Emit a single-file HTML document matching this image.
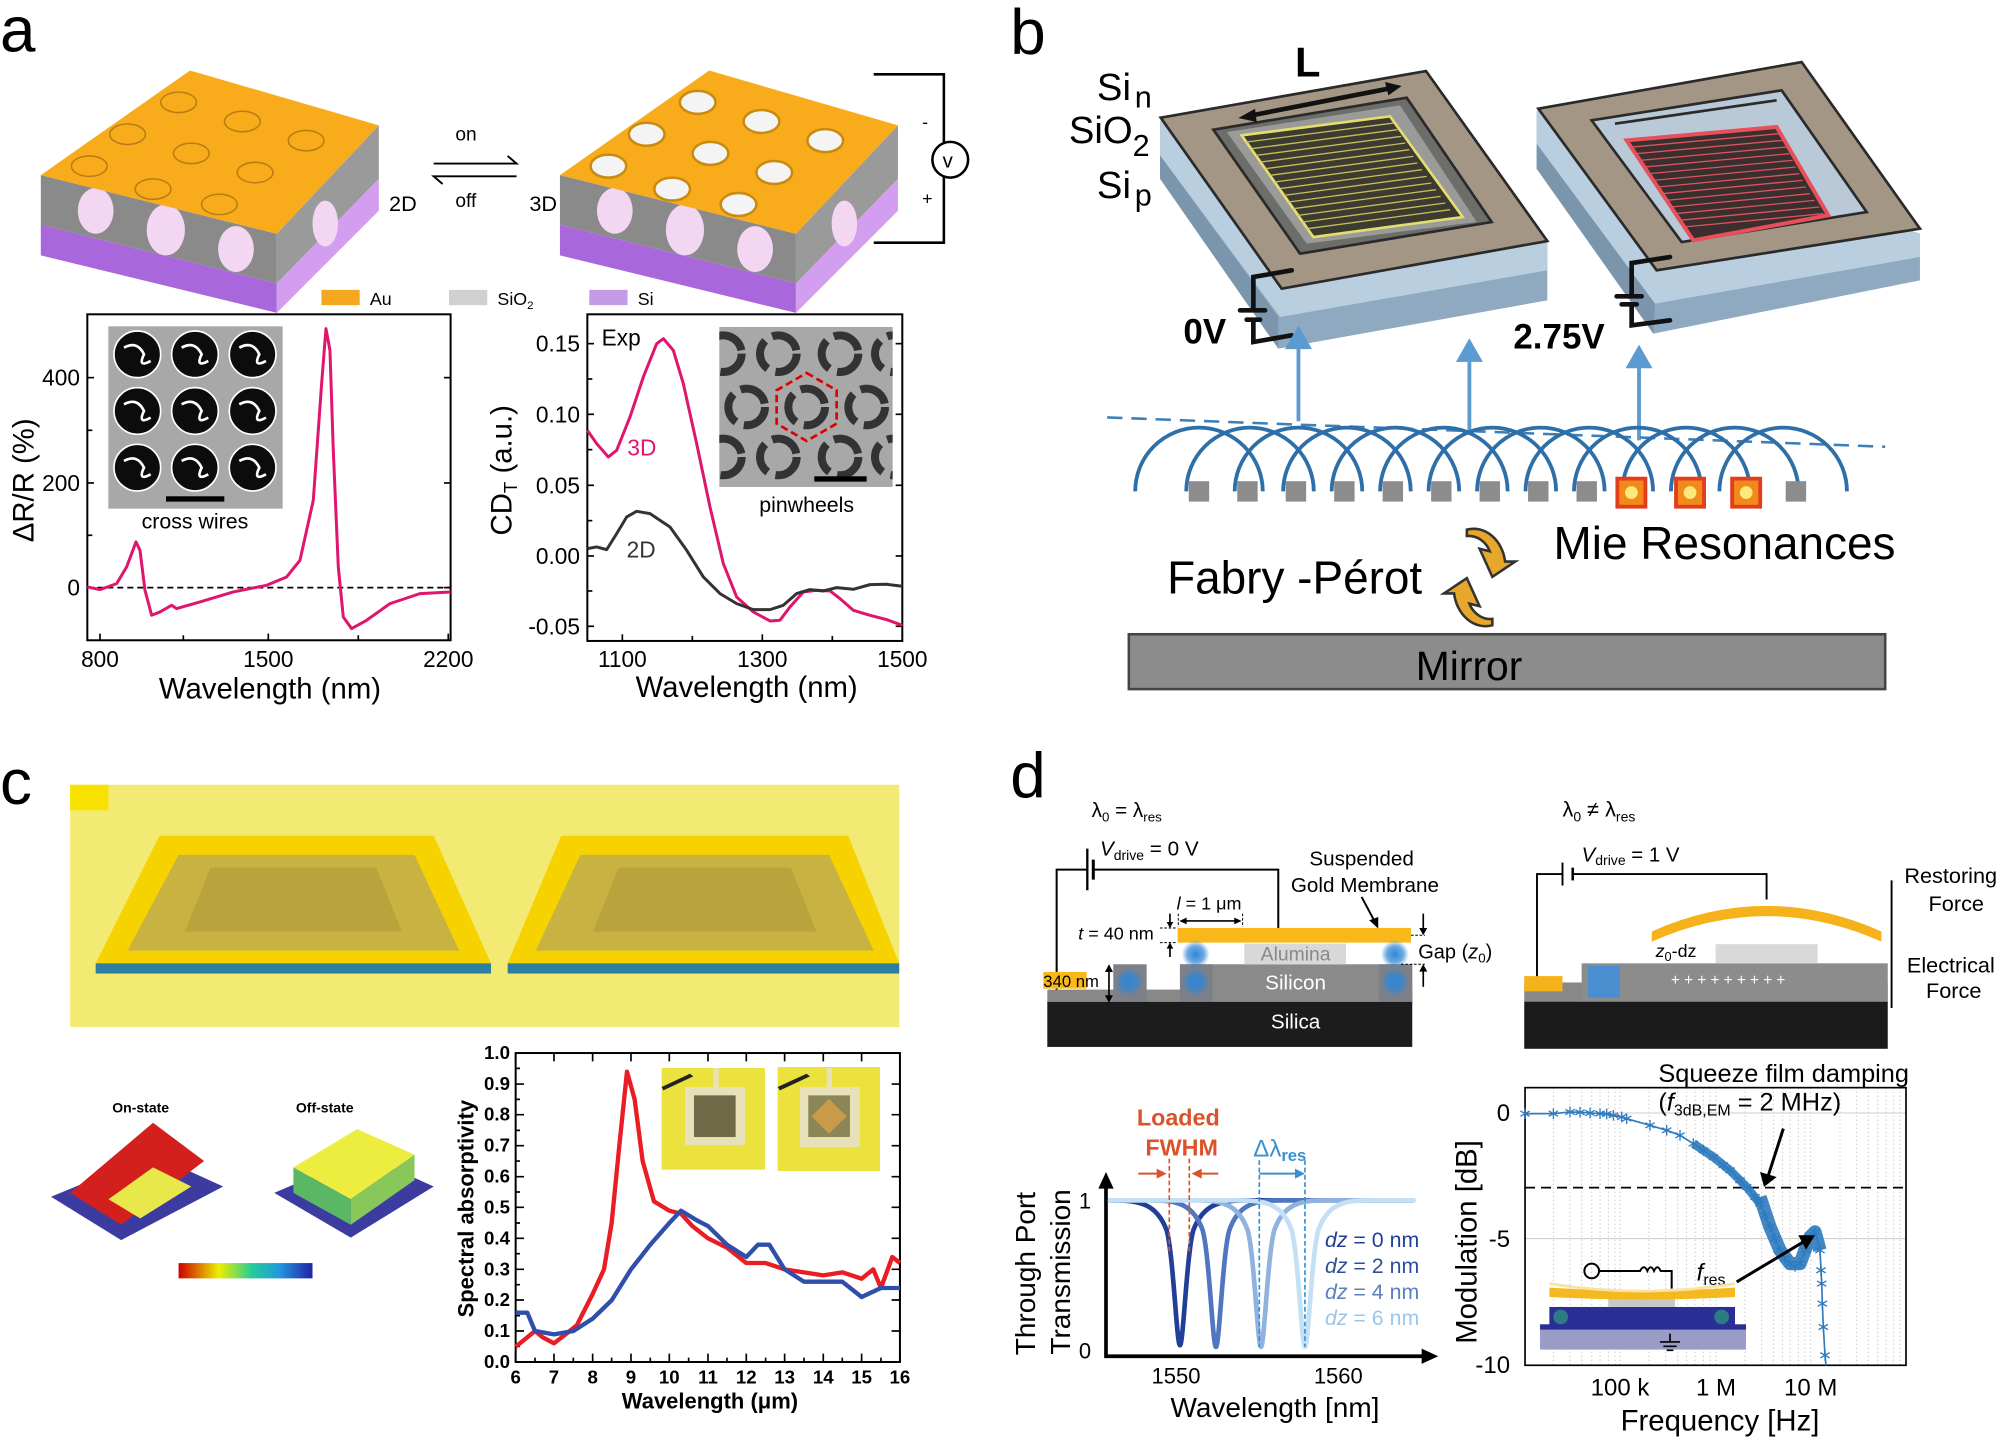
<!DOCTYPE html>
<html><head><meta charset="utf-8"><style>
html,body{margin:0;padding:0;background:#fff}
svg{display:block}
text{font-family:"Liberation Sans",sans-serif}
</style></head><body>
<svg width="2000" height="1456" viewBox="0 0 1568 1141" xmlns="http://www.w3.org/2000/svg">
<defs>
<clipPath id="ci"><rect x="748" y="80" width="520" height="480"/></clipPath>
<linearGradient id="cb" x1="0" x2="1"><stop offset="0" stop-color="#c00"/><stop offset="0.3" stop-color="#ee0"/><stop offset="0.55" stop-color="#2c9"/><stop offset="0.75" stop-color="#29d"/><stop offset="1" stop-color="#22a"/></linearGradient>
<marker id="ast" markerUnits="userSpaceOnUse" markerWidth="40" markerHeight="40" refX="20" refY="20" viewBox="0 0 40 40">
<path d="M20,4 V36 M6,12 L34,28 M6,28 L34,12" stroke="#2f7bbf" stroke-width="4"/>
</marker>
<radialGradient id="glow"><stop offset="0" stop-color="#2f86d6"/><stop offset="0.6" stop-color="#2f86d6" stop-opacity="0.7"/><stop offset="1" stop-color="#2f86d6" stop-opacity="0"/></radialGradient>
</defs>
<rect width="1568" height="1141" fill="#fff"/>
<text x="0" y="40" font-size="50">a</text>
<text x="792" y="42" font-size="50">b</text>
<text x="0" y="630" font-size="50">c</text>
<text x="792" y="625" font-size="50">d</text>

<!-- ===== a: blocks ===== -->
<g id="blk">
<polygon points="32,137 217,183 217,222 32,176" fill="#8a8a8a"/>
<polygon points="32,176 217,222 217,245 32,200" fill="#a868dc"/>
<polygon points="217,183 297,98 297,140 217,222" fill="#9a9a9a"/>
<polygon points="217,222 297,140 297,165 217,245" fill="#d49ef0"/>
<g fill="#f2d6f2"><ellipse cx="75" cy="165" rx="14" ry="18"/><ellipse cx="130" cy="180" rx="15" ry="20"/><ellipse cx="185" cy="195" rx="14" ry="18"/><ellipse cx="255" cy="175" rx="10" ry="18"/></g>
</g>
<polygon points="32,137 149,55 297,98 217,183" fill="#f8ac1c"/>
<g fill="none" stroke="#b87d10" stroke-width="1.2">
<ellipse cx="140" cy="80" rx="14" ry="8"/><ellipse cx="190" cy="95" rx="14" ry="8"/><ellipse cx="240" cy="110" rx="14" ry="8"/>
<ellipse cx="100" cy="105" rx="14" ry="8"/><ellipse cx="150" cy="120" rx="14" ry="8"/><ellipse cx="200" cy="135" rx="14" ry="8"/>
<ellipse cx="70" cy="130" rx="14" ry="8"/><ellipse cx="120" cy="148" rx="14" ry="8"/><ellipse cx="172" cy="160" rx="14" ry="8"/>
</g>
<use href="#blk" x="407"/>
<polygon points="439,137 556,55 704,98 624,183" fill="#f8ac1c"/>
<g fill="#f4f4f4" stroke="#c98a12" stroke-width="2">
<ellipse cx="547" cy="80" rx="14" ry="9"/><ellipse cx="597" cy="95" rx="14" ry="9"/><ellipse cx="647" cy="110" rx="14" ry="9"/>
<ellipse cx="507" cy="105" rx="14" ry="9"/><ellipse cx="557" cy="120" rx="14" ry="9"/><ellipse cx="607" cy="135" rx="14" ry="9"/>
<ellipse cx="477" cy="130" rx="14" ry="9"/><ellipse cx="527" cy="148" rx="14" ry="9"/><ellipse cx="579" cy="160" rx="14" ry="9"/>
</g>
<path d="M685,58 H740 V190 H685" fill="none" stroke="#000" stroke-width="2"/>
<circle cx="745" cy="125" r="14" fill="#fff" stroke="#000" stroke-width="2"/>
<text x="739" y="131" font-size="16">v</text>
<text x="723" y="100" font-size="14">-</text><text x="723" y="160" font-size="14">+</text>
<text x="305" y="165" font-size="17">2D</text><text x="415" y="165" font-size="17">3D</text>
<text x="357" y="110" font-size="15">on</text><text x="357" y="162" font-size="15">off</text>
<path d="M340,128 H405 L398,122 M405,138 H340 L347,144" fill="none" stroke="#000" stroke-width="1.5"/>
<rect x="252" y="227" width="30" height="12" fill="#f5a81f"/><text x="290" y="239" font-size="14">Au</text>
<rect x="352" y="227" width="30" height="12" fill="#d0d0d0"/><text x="390" y="239" font-size="14">SiO<tspan font-size="9" dy="3">2</tspan></text>
<rect x="462" y="227" width="30" height="12" fill="#c79ae8"/><text x="500" y="239" font-size="14">Si</text>

<!-- a1 chart -->
<g transform="translate(0,235.2) scale(0.2613)">
<rect x="262" y="42" width="1090" height="978" fill="none" stroke="#000" stroke-width="6"/>
<line x1="262" y1="862" x2="1352" y2="862" stroke="#000" stroke-width="5" stroke-dasharray="18,12"/>
<g stroke="#000" stroke-width="5">
<line x1="300" y1="1020" x2="300" y2="1000"/><line x1="550" y1="1020" x2="550" y2="1005"/><line x1="805" y1="1020" x2="805" y2="1000"/><line x1="1075" y1="1020" x2="1075" y2="1005"/><line x1="1345" y1="1020" x2="1345" y2="1000"/>
<line x1="262" y1="232" x2="282" y2="232"/><line x1="262" y1="390" x2="277" y2="390"/><line x1="262" y1="548" x2="282" y2="548"/><line x1="262" y1="705" x2="277" y2="705"/><line x1="262" y1="862" x2="282" y2="862"/>
<line x1="1352" y1="232" x2="1332" y2="232"/><line x1="1352" y1="548" x2="1332" y2="548"/><line x1="1352" y1="862" x2="1332" y2="862"/>
</g>
<rect x="325" y="78" width="523" height="547" fill="#a8a8a8"/>
<g fill="#0c0c0c" stroke="#fff" stroke-width="5">
<circle cx="412" cy="162" r="70"/><circle cx="585" cy="162" r="70"/><circle cx="758" cy="162" r="70"/>
<circle cx="412" cy="332" r="70"/><circle cx="585" cy="332" r="70"/><circle cx="758" cy="332" r="70"/>
<circle cx="412" cy="502" r="70"/><circle cx="585" cy="502" r="70"/><circle cx="758" cy="502" r="70"/>
</g>
<g fill="none" stroke="#fff" stroke-width="8">
<path d="M372,142 Q412,120 432,162 Q412,204 452,182"/><path d="M545,142 Q585,120 605,162 Q585,204 625,182"/><path d="M718,142 Q758,120 778,162 Q758,204 798,182"/>
<path d="M372,312 Q412,290 432,332 Q412,374 452,352"/><path d="M545,312 Q585,290 605,332 Q585,374 625,352"/><path d="M718,312 Q758,290 778,332 Q758,374 798,352"/>
<path d="M372,482 Q412,460 432,502 Q412,544 452,522"/><path d="M545,482 Q585,460 605,502 Q585,544 625,522"/><path d="M718,482 Q758,460 778,502 Q758,544 798,522"/>
</g>
<rect x="498" y="588" width="175" height="16" fill="#000"/>
<text x="585" y="685" font-size="64" text-anchor="middle">cross wires</text>
<path d="M262,860 L300,868 L350,850 L380,800 L408,725 L420,750 L435,870 L455,945 L480,935 L515,915 L530,925 L600,905 L700,875 L800,855 L860,830 L900,780 L940,600 L965,250 L978,85 L990,150 L1000,450 L1015,800 L1030,950 L1055,985 L1100,960 L1170,910 L1260,880 L1352,875" fill="none" stroke="#e0156e" stroke-width="9" stroke-linejoin="round"/>
<g font-size="68" text-anchor="middle"><text x="300" y="1100">800</text><text x="805" y="1100">1500</text><text x="1345" y="1100">2200</text></g>
<g font-size="68" text-anchor="end"><text x="240" y="256">400</text><text x="240" y="572">200</text><text x="240" y="886">0</text></g>
<text x="810" y="1195" font-size="88" text-anchor="middle">Wavelength (nm)</text>
<text transform="translate(100,540) rotate(-90)" font-size="88" text-anchor="middle">ΔR/R (%)</text>
</g>

<!-- a2 chart -->
<g transform="translate(368.5,235.2) scale(0.2613)">
<rect x="352" y="42" width="945" height="980" fill="none" stroke="#000" stroke-width="6"/>
<g stroke="#000" stroke-width="5">
<line x1="457" y1="1022" x2="457" y2="1002"/><line x1="667" y1="1022" x2="667" y2="1007"/><line x1="877" y1="1022" x2="877" y2="1002"/><line x1="1087" y1="1022" x2="1087" y2="1007"/>
<line x1="352" y1="130" x2="372" y2="130"/><line x1="352" y1="236" x2="367" y2="236"/><line x1="352" y1="342" x2="372" y2="342"/><line x1="352" y1="448" x2="367" y2="448"/><line x1="352" y1="555" x2="372" y2="555"/><line x1="352" y1="661" x2="367" y2="661"/><line x1="352" y1="767" x2="372" y2="767"/><line x1="352" y1="872" x2="367" y2="872"/><line x1="352" y1="978" x2="372" y2="978"/>
<line x1="1297" y1="130" x2="1277" y2="130"/><line x1="1297" y1="342" x2="1277" y2="342"/><line x1="1297" y1="555" x2="1277" y2="555"/><line x1="1297" y1="767" x2="1277" y2="767"/><line x1="1297" y1="978" x2="1277" y2="978"/>
</g>
<rect x="748" y="80" width="520" height="480" fill="#a8a8a8"/>
<g clip-path="url(#ci)" fill="none" stroke="#333" stroke-width="24" stroke-dasharray="95,25">
<circle cx="760" cy="160" r="55"/><circle cx="925" cy="160" r="55"/><circle cx="1110" cy="160" r="55"/><circle cx="1270" cy="160" r="55"/>
<circle cx="830" cy="320" r="55"/><circle cx="1010" cy="320" r="55"/><circle cx="1190" cy="320" r="55"/>
<circle cx="760" cy="470" r="55"/><circle cx="925" cy="470" r="55"/><circle cx="1110" cy="470" r="55"/><circle cx="1270" cy="470" r="55"/>
</g>
<polygon points="1010,218 1100,270 1100,370 1010,422 920,370 920,270" fill="none" stroke="#d00" stroke-width="8" stroke-dasharray="22,12"/>
<rect x="1033" y="528" width="157" height="16" fill="#000"/>
<text x="1010" y="635" font-size="64" text-anchor="middle">pinwheels</text>
<text x="395" y="135" font-size="68">Exp</text>
<text x="472" y="465" font-size="68" fill="#e0156e">3D</text>
<text x="470" y="772" font-size="68" fill="#333">2D</text>
<path d="M352,390 L380,430 L415,470 L440,450 L480,350 L520,230 L560,130 L580,115 L610,150 L640,250 L680,430 L720,620 L760,790 L800,890 L850,935 L900,962 L930,960 L960,920 L1000,875 L1040,870 L1080,872 L1110,895 L1150,930 L1200,945 L1250,958 L1297,975" fill="none" stroke="#e0156e" stroke-width="9" stroke-linejoin="round"/>
<path d="M352,745 L380,740 L410,748 L440,700 L470,650 L500,633 L540,640 L600,680 L650,750 L700,830 L750,880 L800,910 L850,928 L900,928 L940,915 L980,880 L1020,868 L1060,872 L1100,862 L1150,867 L1200,853 L1250,852 L1297,858" fill="none" stroke="#333" stroke-width="9" stroke-linejoin="round"/>
<g font-size="68" text-anchor="middle"><text x="457" y="1100">1100</text><text x="877" y="1100">1300</text><text x="1297" y="1100">1500</text></g>
<g font-size="68" text-anchor="end"><text x="330" y="154">0.15</text><text x="330" y="366">0.10</text><text x="330" y="579">0.05</text><text x="330" y="791">0.00</text><text x="330" y="1002">-0.05</text></g>
<text x="830" y="1190" font-size="88" text-anchor="middle">Wavelength (nm)</text>
<text transform="translate(125,510) rotate(-90)" font-size="88" text-anchor="middle">CD<tspan font-size="56" dy="16">T</tspan><tspan dy="-16"> (a.u.)</tspan></text>
</g>

<!-- ===== b ===== -->
<text x="860" y="78" font-size="30">Si<tspan font-size="24" dx="3" dy="6">n</tspan></text>
<text x="838" y="112" font-size="30">SiO<tspan font-size="24" dy="10">2</tspan></text>
<text x="860" y="155" font-size="30">Si<tspan font-size="24" dx="3" dy="6">p</tspan></text>
<!-- left frame -->
<g transform="translate(893.8,31.4) scale(0.2613)">
<polygon points="60,240 60,415 415,925 1222,780 1222,600" fill="#8fa9c0"/>
<polygon points="60,240 60,345 420,830 1222,690 1222,600" fill="#b9cfdf"/>
<polygon points="60,345 60,415 415,925 415,830" fill="#7b95ad"/>
<polygon points="62,232 858,92 1222,602 425,745" fill="#a39684" stroke="#2a2a2a" stroke-width="8"/>
<polygon points="220,268 800,172 1055,545 480,640" fill="#6d6d6a" stroke="#2a2a2a" stroke-width="8"/>
<polygon points="260,275 780,195 1010,545 500,610" fill="#9a9a98"/>
<polygon points="305,285 750,228 968,530 520,590" fill="#3b3b30" stroke="#e6dd70" stroke-width="8"/>
<g stroke="#c7bd60" stroke-width="4">
<line x1="320" y1="305" x2="760" y2="248"/><line x1="334" y1="325" x2="772" y2="268"/><line x1="348" y1="345" x2="784" y2="288"/><line x1="362" y1="365" x2="796" y2="308"/><line x1="376" y1="385" x2="808" y2="328"/><line x1="390" y1="405" x2="820" y2="348"/><line x1="404" y1="425" x2="832" y2="368"/><line x1="418" y1="445" x2="846" y2="388"/><line x1="432" y1="465" x2="860" y2="408"/><line x1="446" y1="485" x2="874" y2="428"/><line x1="460" y1="505" x2="888" y2="448"/><line x1="474" y1="525" x2="902" y2="468"/><line x1="488" y1="545" x2="916" y2="488"/><line x1="502" y1="565" x2="930" y2="508"/>
</g>
<path d="M320,228 L760,142" stroke="#111" stroke-width="14"/>
<polygon points="295,233 345,205 350,245" fill="#111"/><polygon points="785,137 735,125 745,165" fill="#111"/>
<text x="465" y="108" font-size="125" font-weight="bold">L</text>
<path d="M455,690 L340,710 V805 M300,810 H375 M320,838 H360 M340,840 V905 L455,885" fill="none" stroke="#111" stroke-width="14" stroke-linecap="round"/>
<text x="130" y="910" font-size="105" font-weight="bold">0V</text>
</g>
<!-- right frame -->
<g transform="translate(1176,31.4) scale(0.2613)">
<polygon points="110,210 110,385 460,880 1260,720 1260,580" fill="#8fa9c0"/>
<polygon points="110,210 110,310 465,790 1260,650 1260,580" fill="#b9cfdf"/>
<polygon points="110,310 110,385 460,880 465,790" fill="#7b95ad"/>
<polygon points="115,205 905,65 1260,565 470,690" fill="#a39684" stroke="#2a2a2a" stroke-width="8"/>
<polygon points="275,240 845,150 1100,515 545,605" fill="#b9c9d8" stroke="#2a2a2a" stroke-width="8"/>
<polygon points="380,300 830,260 985,525 580,600" fill="#3b2e2e" stroke="#e5505a" stroke-width="12"/>
<g stroke="#d9555e" stroke-width="4">
<line x1="395" y1="320" x2="838" y2="280"/><line x1="408" y1="340" x2="848" y2="300"/><line x1="421" y1="360" x2="858" y2="320"/><line x1="434" y1="380" x2="868" y2="340"/><line x1="447" y1="400" x2="878" y2="360"/><line x1="460" y1="420" x2="888" y2="380"/><line x1="473" y1="440" x2="898" y2="400"/><line x1="486" y1="460" x2="908" y2="420"/><line x1="499" y1="480" x2="918" y2="440"/><line x1="512" y1="500" x2="930" y2="460"/><line x1="525" y1="520" x2="944" y2="480"/><line x1="538" y1="540" x2="958" y2="500"/><line x1="551" y1="560" x2="970" y2="520"/>
</g>
<path d="M345,250 L830,180" stroke="#2a2a2a" stroke-width="8"/>
<path d="M510,650 L395,668 V765 M350,768 H425 M365,792 H410 M395,795 V855 L510,840" fill="none" stroke="#111" stroke-width="14" stroke-linecap="round"/>
<text x="40" y="925" font-size="105" font-weight="bold">2.75V</text>
</g>
<g>
<g stroke="#5b9bd0" stroke-width="3" fill="#5b9bd0">
<line x1="1018" y1="330" x2="1018" y2="268"/><polygon points="1010,272 1018,258 1026,272"/>
<line x1="1152" y1="340" x2="1152" y2="278"/><polygon points="1144,282 1152,268 1160,282"/>
<line x1="1285" y1="345" x2="1285" y2="283"/><polygon points="1277,287 1285,273 1293,287"/>
</g>
<line x1="868" y1="327" x2="1478" y2="350" stroke="#3d7fb8" stroke-width="2" stroke-dasharray="12,7"/>
<g fill="none" stroke="#2f6fa8" stroke-width="3">
<path d="M890,385 A50,50 0 0 1 990,385"/><path d="M930,385 A50,50 0 0 1 1030,385"/><path d="M968,385 A50,50 0 0 1 1068,385"/><path d="M1006,385 A50,50 0 0 1 1106,385"/><path d="M1044,385 A50,50 0 0 1 1144,385"/><path d="M1082,385 A50,50 0 0 1 1182,385"/><path d="M1120,385 A50,50 0 0 1 1220,385"/><path d="M1158,385 A50,50 0 0 1 1258,385"/><path d="M1196,385 A50,50 0 0 1 1296,385"/><path d="M1234,385 A50,50 0 0 1 1334,385"/><path d="M1272,385 A50,50 0 0 1 1372,385"/><path d="M1310,385 A50,50 0 0 1 1410,385"/><path d="M1348,385 A50,50 0 0 1 1448,385"/>
</g>
<g fill="#8c8c8c"><rect x="932" y="377" width="16" height="16"/><rect x="970" y="377" width="16" height="16"/><rect x="1008" y="377" width="16" height="16"/><rect x="1046" y="377" width="16" height="16"/><rect x="1084" y="377" width="16" height="16"/><rect x="1122" y="377" width="16" height="16"/><rect x="1160" y="377" width="16" height="16"/><rect x="1198" y="377" width="16" height="16"/><rect x="1236" y="377" width="16" height="16"/><rect x="1400" y="377" width="16" height="16"/></g>
<g fill="#f28a1b" stroke="#e23d1e" stroke-width="3"><rect x="1268" y="375" width="22" height="22"/><rect x="1314" y="375" width="22" height="22"/><rect x="1358" y="375" width="22" height="22"/></g>
<g fill="#ffe97a"><circle cx="1279" cy="386" r="5"/><circle cx="1325" cy="386" r="5"/><circle cx="1369" cy="386" r="5"/></g>
<text x="915" y="465" font-size="36">Fabry -Pérot</text>
<text x="1218" y="438" font-size="36">Mie Resonances</text>
<path d="M1150,415 A25,30 0 0 1 1180,440 L1188,440 L1170,452 L1160,430 L1168,432 A18,20 0 0 0 1150,420 Z" fill="#e6a72a" stroke="#333" stroke-width="2"/>
<path d="M1170,490 A25,30 0 0 1 1140,465 L1132,465 L1150,453 L1160,475 L1152,473 A18,20 0 0 0 1170,485 Z" fill="#e6a72a" stroke="#333" stroke-width="2"/>
<rect x="885" y="497" width="593" height="43" fill="#8c8c8c" stroke="#444" stroke-width="2"/>
<text x="1110" y="533" font-size="32">Mirror</text>
</g>

<!-- ===== c ===== -->
<g>
<rect x="55" y="615" width="650" height="190" fill="#f2ea73"/>
<rect x="55" y="615" width="30" height="20" fill="#f7e100"/>
<polygon points="75,755 385,755 340,655 125,655" fill="#f6d300"/>
<rect x="75" y="755" width="310" height="8" fill="#2d7fa0"/>
<polygon points="100,745 360,745 325,670 140,670" fill="#c8b242"/>
<polygon points="145,730 315,730 295,680 165,680" fill="#b9a33d"/>
<polygon points="398,755 705,755 665,655 440,655" fill="#f6d300"/>
<rect x="398" y="755" width="307" height="8" fill="#2d7fa0"/>
<polygon points="420,745 685,745 650,670 455,670" fill="#c8b242"/>
<polygon points="465,730 640,730 620,680 485,680" fill="#b9a33d"/>
<text x="88" y="872" font-size="11" font-weight="bold">On-state</text>
<text x="232" y="872" font-size="11" font-weight="bold">Off-state</text>
<polygon points="40,938 120,905 175,930 95,972" fill="#3c3ca0"/>
<polygon points="55,935 120,880 160,910 95,960" fill="#d41f1f"/>
<polygon points="85,940 120,915 150,930 110,955" fill="#e8e84a"/>
<polygon points="215,935 285,905 340,930 275,970" fill="#3c3ca0"/>
<polygon points="230,915 280,885 325,905 275,940" fill="#eded40"/>
<polygon points="230,915 275,940 275,960 230,935" fill="#5ab865"/>
<polygon points="275,940 325,905 325,925 275,960" fill="#88c85a"/>
<rect x="140" y="990" width="105" height="12" fill="url(#cb)"/>
</g>
<g transform="translate(352.8,815.4) scale(0.2613)" font-family="Liberation Serif" font-weight="bold">
<rect x="635" y="83" width="310" height="305" fill="#ece23e"/>
<rect x="705" y="140" width="180" height="175" fill="#e8e0b8"/><rect x="732" y="165" width="125" height="125" fill="#6f6a48"/>
<rect x="790" y="83" width="16" height="60" fill="#e8e0b8"/>
<polygon points="635,140 720,100 730,108 640,150" fill="#222"/>
<rect x="983" y="80" width="307" height="312" fill="#ece23e"/>
<rect x="1050" y="140" width="180" height="180" fill="#e8e0b8"/><rect x="1075" y="165" width="125" height="125" fill="#8a8658"/>
<polygon points="1137,175 1190,228 1137,280 1085,228" fill="#c99a48"/>
<rect x="1130" y="83" width="16" height="60" fill="#e8e0b8"/>
<polygon points="983,140 1070,100 1080,108 990,150" fill="#222"/>
<rect x="197" y="38" width="1153" height="927" fill="none" stroke="#000" stroke-width="6"/>
<g stroke="#000" stroke-width="5">
<path d="M197,965 v-25 M312,965 v-25 M428,965 v-25 M543,965 v-25 M658,965 v-25 M774,965 v-25 M889,965 v-25 M1004,965 v-25 M1120,965 v-25 M1235,965 v-25 M1350,965 v-25"/>
<path d="M255,965 v-13 M370,965 v-13 M485,965 v-13 M601,965 v-13 M716,965 v-13 M831,965 v-13 M947,965 v-13 M1062,965 v-13 M1177,965 v-13 M1293,965 v-13"/>
<path d="M197,38 v25 M312,38 v25 M428,38 v25 M543,38 v25 M658,38 v25 M774,38 v25 M889,38 v25 M1004,38 v25 M1120,38 v25 M1235,38 v25"/>
<path d="M197,872 h25 M197,779 h25 M197,687 h25 M197,594 h25 M197,501 h25 M197,409 h25 M197,316 h25 M197,223 h25 M197,131 h25"/>
<path d="M197,918 h13 M197,826 h13 M197,733 h13 M197,640 h13 M197,548 h13 M197,455 h13 M197,362 h13 M197,270 h13 M197,177 h13 M197,84 h13"/>
<path d="M1350,872 h-25 M1350,779 h-25 M1350,687 h-25 M1350,594 h-25 M1350,501 h-25 M1350,409 h-25 M1350,316 h-25 M1350,223 h-25 M1350,131 h-25"/>
</g>
<path d="M197,919 L232,891 L255,872 L278,891 L312,909 L347,882 L381,854 L428,761 L462,687 L485,548 L508,316 L531,94 L554,177 L578,362 L612,483 L658,511 L693,520 L727,557 L774,594 L831,622 L889,668 L947,668 L1004,687 L1062,696 L1120,705 L1177,696 L1235,715 L1270,687 L1293,743 L1327,650 L1350,668" fill="none" stroke="#ea1c24" stroke-width="13" stroke-linejoin="round"/>
<path d="M197,817 L232,817 L255,872 L312,882 L370,872 L428,835 L485,780 L543,687 L601,613 L658,548 L693,511 L739,539 L774,557 L831,613 L889,650 L924,613 L958,613 L1004,687 L1062,724 L1120,724 L1177,724 L1235,770 L1293,743 L1350,743" fill="none" stroke="#2f4faa" stroke-width="13" stroke-linejoin="round"/>
<g font-size="56" text-anchor="middle">
<text x="197" y="1030">6</text><text x="312" y="1030">7</text><text x="428" y="1030">8</text><text x="543" y="1030">9</text><text x="658" y="1030">10</text><text x="774" y="1030">11</text><text x="889" y="1030">12</text><text x="1004" y="1030">13</text><text x="1120" y="1030">14</text><text x="1235" y="1030">15</text><text x="1350" y="1030">16</text>
</g>
<g font-size="56" text-anchor="end">
<text x="180" y="983">0.0</text><text x="180" y="890">0.1</text><text x="180" y="797">0.2</text><text x="180" y="705">0.3</text><text x="180" y="612">0.4</text><text x="180" y="519">0.5</text><text x="180" y="427">0.6</text><text x="180" y="334">0.7</text><text x="180" y="241">0.8</text><text x="180" y="149">0.9</text><text x="180" y="56">1.0</text>
</g>
<text x="780" y="1105" font-size="66" text-anchor="middle">Wavelength (μm)</text>
<text transform="translate(70,505) rotate(-90)" font-size="66" text-anchor="middle">Spectral absorptivity</text>
</g>

<!-- ===== d ===== -->
<g transform="translate(807.5,611.5) scale(0.2613)">
<text x="185" y="110" font-size="62" font-family="Liberation Serif">λ<tspan font-size="40" dy="14">0</tspan><tspan dy="-14"> = λ</tspan><tspan font-size="40" dy="14" font-family="Liberation Sans">res</tspan></text>
<path d="M80,640 V268 H172 M190,268 H745 V443" fill="none" stroke="#000" stroke-width="6"/>
<line x1="172" y1="205" x2="172" y2="330" stroke="#000" stroke-width="7"/>
<line x1="190" y1="238" x2="190" y2="298" stroke="#000" stroke-width="9"/>
<text x="210" y="225" font-size="62"><tspan font-style="italic">V</tspan><tspan font-size="42" dy="14">drive</tspan><tspan dy="-14"> = 0 V</tspan></text>
<text x="995" y="255" font-size="62" text-anchor="middle">Suspended</text>
<text x="1005" y="335" font-size="62" text-anchor="middle">Gold Membrane</text>
<line x1="995" y1="350" x2="1035" y2="425" stroke="#000" stroke-width="6"/>
<polygon points="1045,445 1018,420 1045,410" fill="#000"/>
<rect x="52" y="628" width="1095" height="40" fill="#888"/>
<rect x="250" y="552" width="100" height="116" fill="#7d8088"/>
<rect x="450" y="552" width="697" height="116" fill="#8a8a8a"/>
<rect x="450" y="552" width="98" height="116" fill="#7d8088"/><rect x="1047" y="552" width="100" height="116" fill="#7d8088"/>
<rect x="52" y="665" width="1095" height="135" fill="#1c1c1c"/>
<rect x="643" y="490" width="305" height="62" fill="#d8d8d8"/>
<rect x="443" y="443" width="700" height="44" fill="#f8b81a"/>
<g fill="url(#glow)"><circle cx="497" cy="522" r="42"/><circle cx="1095" cy="522" r="42"/><circle cx="297" cy="605" r="42"/><circle cx="497" cy="605" r="42"/><circle cx="1095" cy="605" r="42"/></g>
<text x="797" y="540" font-size="58" text-anchor="middle" fill="#888">Alumina</text>
<text x="797" y="628" font-size="62" text-anchor="middle" fill="#fff">Silicon</text>
<text x="797" y="745" font-size="62" text-anchor="middle" fill="#fff">Silica</text>
<rect x="40" y="575" width="130" height="50" fill="#f8b81a"/>
<text x="40" y="620" font-size="50">340 nm</text>
<path d="M237,560 V660" stroke="#000" stroke-width="5"/>
<polygon points="237,552 225,575 249,575" fill="#000"/><polygon points="237,668 225,645 249,645" fill="#000"/>
<text x="145" y="478" font-size="54"><tspan font-style="italic">t</tspan> = 40 nm</text>
<path d="M390,443 H440 M390,487 H440" stroke="#000" stroke-width="3" stroke-dasharray="8,5"/>
<path d="M420,400 V440 M420,490 V530" stroke="#000" stroke-width="5"/>
<polygon points="420,443 410,425 430,425" fill="#000"/><polygon points="420,487 410,505 430,505" fill="#000"/>
<text x="440" y="388" font-size="54"><tspan font-style="italic">l</tspan> = 1 μm</text>
<path d="M445,400 V440 M638,400 V440" stroke="#000" stroke-width="3" stroke-dasharray="8,5"/>
<path d="M455,422 H628" stroke="#000" stroke-width="5"/>
<polygon points="448,422 470,412 470,432" fill="#000"/><polygon points="635,422 613,412 613,432" fill="#000"/>
<text x="1165" y="535" font-size="60">Gap (<tspan font-style="italic">z</tspan><tspan font-size="40" dy="12">0</tspan><tspan dy="-12">)</tspan></text>
<path d="M1143,465 H1185 M1113,552 H1185" stroke="#000" stroke-width="3" stroke-dasharray="8,5"/>
<path d="M1180,400 V450 M1180,570 V620" stroke="#000" stroke-width="5"/>
<polygon points="1180,465 1168,443 1192,443" fill="#000"/><polygon points="1180,552 1168,574 1192,574" fill="#000"/>
</g>
<g>
<text x="1225" y="640" font-size="17" font-family="Liberation Serif">λ<tspan font-size="11" dy="4">0</tspan><tspan dy="-4"> ≠ λ</tspan><tspan font-size="11" dy="4">res</tspan></text>
<path d="M1205,770 V685 H1225 M1233,685 H1385 V705" fill="none" stroke="#000" stroke-width="1.5"/>
<line x1="1225" y1="676" x2="1225" y2="694" stroke="#000" stroke-width="1.5"/><line x1="1233" y1="680" x2="1233" y2="690" stroke="#000" stroke-width="2"/>
<text x="1240" y="675" font-size="16"><tspan font-style="italic">V</tspan><tspan font-size="11" dy="3">drive</tspan><tspan dy="-3"> = 1 V</tspan></text>
<rect x="1195" y="785" width="285" height="37" fill="#1a1a1a"/>
<rect x="1195" y="770" width="285" height="15" fill="#888"/>
<rect x="1240" y="755" width="240" height="30" fill="#8c8c8c"/>
<rect x="1345" y="740" width="80" height="15" fill="#d9d9d9"/>
<rect x="1195" y="765" width="30" height="12" fill="#f5b21b"/>
<rect x="1245" y="757" width="25" height="25" fill="#4b8ed0"/>
<path d="M1295,730 Q1385,690 1475,730 L1475,738 Q1385,698 1295,738 Z" fill="#f5b21b"/>
<text x="1310" y="772" font-size="12" fill="#fff">+ + + +    +    +    +    +    +</text>
<text x="1298" y="750" font-size="14"><tspan font-style="italic">z</tspan><tspan font-size="10" dy="3">0</tspan><tspan dy="-3">-dz</tspan></text>
<line x1="1483" y1="690" x2="1483" y2="790" stroke="#000" stroke-width="1.5"/>
<text x="1493" y="692" font-size="17">Restoring</text><text x="1512" y="714" font-size="17">Force</text>
<text x="1495" y="762" font-size="17">Electrical</text><text x="1510" y="782" font-size="17">Force</text>
</g>

<!-- d bottom-left -->
<g transform="translate(784,846.7) scale(0.2613)">
<path d="M318,300 V828 H1290" fill="none" stroke="#000" stroke-width="11"/>
<polygon points="318,275 295,325 341,325" fill="#000"/>
<polygon points="1315,828 1265,805 1265,851" fill="#000"/>
<g fill="none" stroke-width="14" stroke-linecap="round">
<path d="M330,360 C420,360 470,370 500,450 C520,520 530,795 540,795 C550,795 560,520 580,450 C610,370 660,360 750,360 H1240" stroke="#213f99"/>
<path d="M330,360 H450 C530,360 580,370 608,450 C628,520 638,800 648,800 C658,800 668,520 688,450 C716,370 766,360 846,360 H1240" stroke="#4f76bf"/>
<path d="M330,360 H580 C665,360 715,370 743,450 C763,520 773,800 783,800 C793,800 803,520 823,450 C851,370 901,360 981,360 H1240" stroke="#8fb2de"/>
<path d="M330,360 H712 C797,360 847,370 875,450 C895,520 905,800 915,800 C925,800 935,520 955,450 C983,370 1033,360 1113,360 H1240" stroke="#c3e0f5"/>
</g>
<path d="M508,235 V520 M568,235 V520" stroke="#d9542a" stroke-width="5" stroke-dasharray="14,8"/>
<path d="M415,280 H480 M655,280 H595" stroke="#d9542a" stroke-width="6"/>
<polygon points="500,280 470,265 470,295" fill="#d9542a"/><polygon points="575,280 605,265 605,295" fill="#d9542a"/>
<text x="535" y="135" font-size="70" font-weight="bold" fill="#d9542a" text-anchor="middle">Loaded</text>
<text x="545" y="225" font-size="70" font-weight="bold" fill="#d9542a" text-anchor="middle">FWHM</text>
<path d="M778,240 V800 M915,240 V800" stroke="#3a8fd0" stroke-width="5" stroke-dasharray="14,8"/>
<path d="M778,280 H890" stroke="#3a8fd0" stroke-width="6"/>
<polygon points="915,280 885,265 885,295" fill="#3a8fd0"/>
<text x="760" y="228" font-size="72" fill="#3a8fd0">Δλ<tspan font-size="50" dy="14" font-weight="bold">res</tspan></text>
<g font-size="64" font-style="italic">
<text x="975" y="500" fill="#213f99">dz<tspan font-style="normal"> = 0 nm</tspan></text>
<text x="975" y="578" fill="#2f4f99">dz<tspan font-style="normal"> = 2 nm</tspan></text>
<text x="975" y="656" fill="#5b7fbf">dz<tspan font-style="normal"> = 4 nm</tspan></text>
<text x="975" y="735" fill="#9cc6ea">dz<tspan font-style="normal"> = 6 nm</tspan></text>
</g>
<text x="255" y="385" font-size="66" text-anchor="middle">1</text><text x="255" y="835" font-size="66" text-anchor="middle">0</text>
<text x="528" y="910" font-size="66" text-anchor="middle">1550</text><text x="1015" y="910" font-size="66" text-anchor="middle">1560</text>
<text x="825" y="1010" font-size="84" text-anchor="middle">Wavelength [nm]</text>
<text transform="translate(105,580) rotate(-90)" font-size="84" text-anchor="middle">Through Port</text>
<text transform="translate(210,575) rotate(-90)" font-size="84" text-anchor="middle">Transmission</text>
</g>

<!-- d bottom-right -->
<g transform="translate(1129,823.2) scale(0.2613)">
<g stroke="#c8c8c8" stroke-width="3" stroke-dasharray="4,8">
<path d="M340,112 V945 M390,112 V945 M425,112 V945 M455,112 V945 M480,112 V945 M505,112 V945 M525,112 V945 M540,112 V945"/>
<path d="M627,112 V945 M677,112 V945 M713,112 V945 M740,112 V945 M765,112 V945 M790,112 V945 M810,112 V945 M828,112 V945"/>
<path d="M915,112 V945 M965,112 V945 M1000,112 V945 M1028,112 V945 M1050,112 V945 M1075,112 V945 M1095,112 V945 M1112,112 V945"/>
<path d="M1200,112 V945 M1250,112 V945 M1285,112 V945 M1313,112 V945 M1338,112 V945 M1360,112 V945 M1380,112 V945"/>
</g>
<g stroke="#ccc" stroke-width="3"><path d="M255,188 H1398 M255,565 H1398"/></g>
<rect x="255" y="112" width="1143" height="833" fill="none" stroke="#000" stroke-width="5"/>
<line x1="255" y1="412" x2="1398" y2="412" stroke="#000" stroke-width="5" stroke-dasharray="30,18"/>
<path d="M960,440 L990,530 L1020,600 L1050,640 L1080,640 L1110,560 L1125,545 L1140,600" fill="none" stroke="#2f7bbf" stroke-width="40" stroke-linejoin="round" opacity="0.9"/>
<path d="M760,280 L820,320 L870,360 L920,410 L960,460" fill="none" stroke="#2f7bbf" stroke-width="26" opacity="0.9"/>
<path d="M255,190 L340,190 L390,185 L420,186 L450,188 L480,190 L500,191 L520,195 L545,200 L560,205 L630,225 L680,240 L720,255 L760,280 L790,300 L820,320 L850,345 L870,360 L900,390 L920,410 L945,440 L960,460 L975,495 L990,530 L1005,565 L1020,600 L1035,625 L1050,640 L1065,648 L1080,640 L1095,600 L1110,560 L1125,545 L1140,600 L1143,660 L1145,700 L1147,760 L1150,830 L1155,915 L1158,945" fill="none" stroke="#2f7bbf" stroke-width="5" marker-start="url(#ast)" marker-mid="url(#ast)"/>
<path d="M1030,235 L985,375" stroke="#000" stroke-width="9"/>
<polygon points="972,410 960,365 1010,380" fill="#000"/>
<path d="M890,695 L1090,575" stroke="#000" stroke-width="9"/>
<polygon points="1125,555 1075,555 1098,598" fill="#000"/>
<text x="655" y="95" font-size="76">Squeeze film damping</text>
<text x="655" y="180" font-size="76">(<tspan font-style="italic">f</tspan><tspan font-size="48" dy="16">3dB,EM</tspan><tspan dy="-16"> = 2 MHz)</tspan></text>
<text x="770" y="690" font-size="72"><tspan font-style="italic">f</tspan><tspan font-size="48" dy="14">res</tspan></text>
<rect x="300" y="825" width="618" height="73" fill="#9b9bc8"/>
<rect x="300" y="822" width="618" height="16" fill="#2a2f96"/>
<rect x="328" y="770" width="557" height="60" fill="#2a2f96"/>
<circle cx="362" cy="800" r="22" fill="#2d9c7a" opacity="0.7"/><circle cx="845" cy="800" r="22" fill="#2d9c7a" opacity="0.7"/>
<rect x="505" y="735" width="200" height="35" fill="#c8c8c8"/>
<path d="M328,712 Q606,730 885,712 L885,740 Q606,755 328,740 Z" fill="#f5b81f"/>
<path d="M328,700 Q606,745 885,700" fill="none" stroke="#f8e4a0" stroke-width="8"/>
<circle cx="455" cy="662" r="22" fill="none" stroke="#000" stroke-width="6"/>
<path d="M477,662 H600 Q612,640 622,662 Q632,640 642,662 Q652,640 662,662 H695 V715" fill="none" stroke="#000" stroke-width="6"/>
<path d="M690,850 V875 M660,875 H720 M670,888 H710 M680,900 H700" stroke="#000" stroke-width="5"/>
<g font-size="72" text-anchor="end"><text x="210" y="212">0</text><text x="210" y="590">-5</text><text x="210" y="968">-10</text></g>
<g font-size="72" text-anchor="middle"><text x="540" y="1035">100 k</text><text x="828" y="1035">1 M</text><text x="1112" y="1035">10 M</text></g>
<text x="840" y="1140" font-size="88" text-anchor="middle">Frequency [Hz]</text>
<text transform="translate(110,575) rotate(-90)" font-size="88" text-anchor="middle">Modulation [dB]</text>
</g>
</svg>
</body></html>
